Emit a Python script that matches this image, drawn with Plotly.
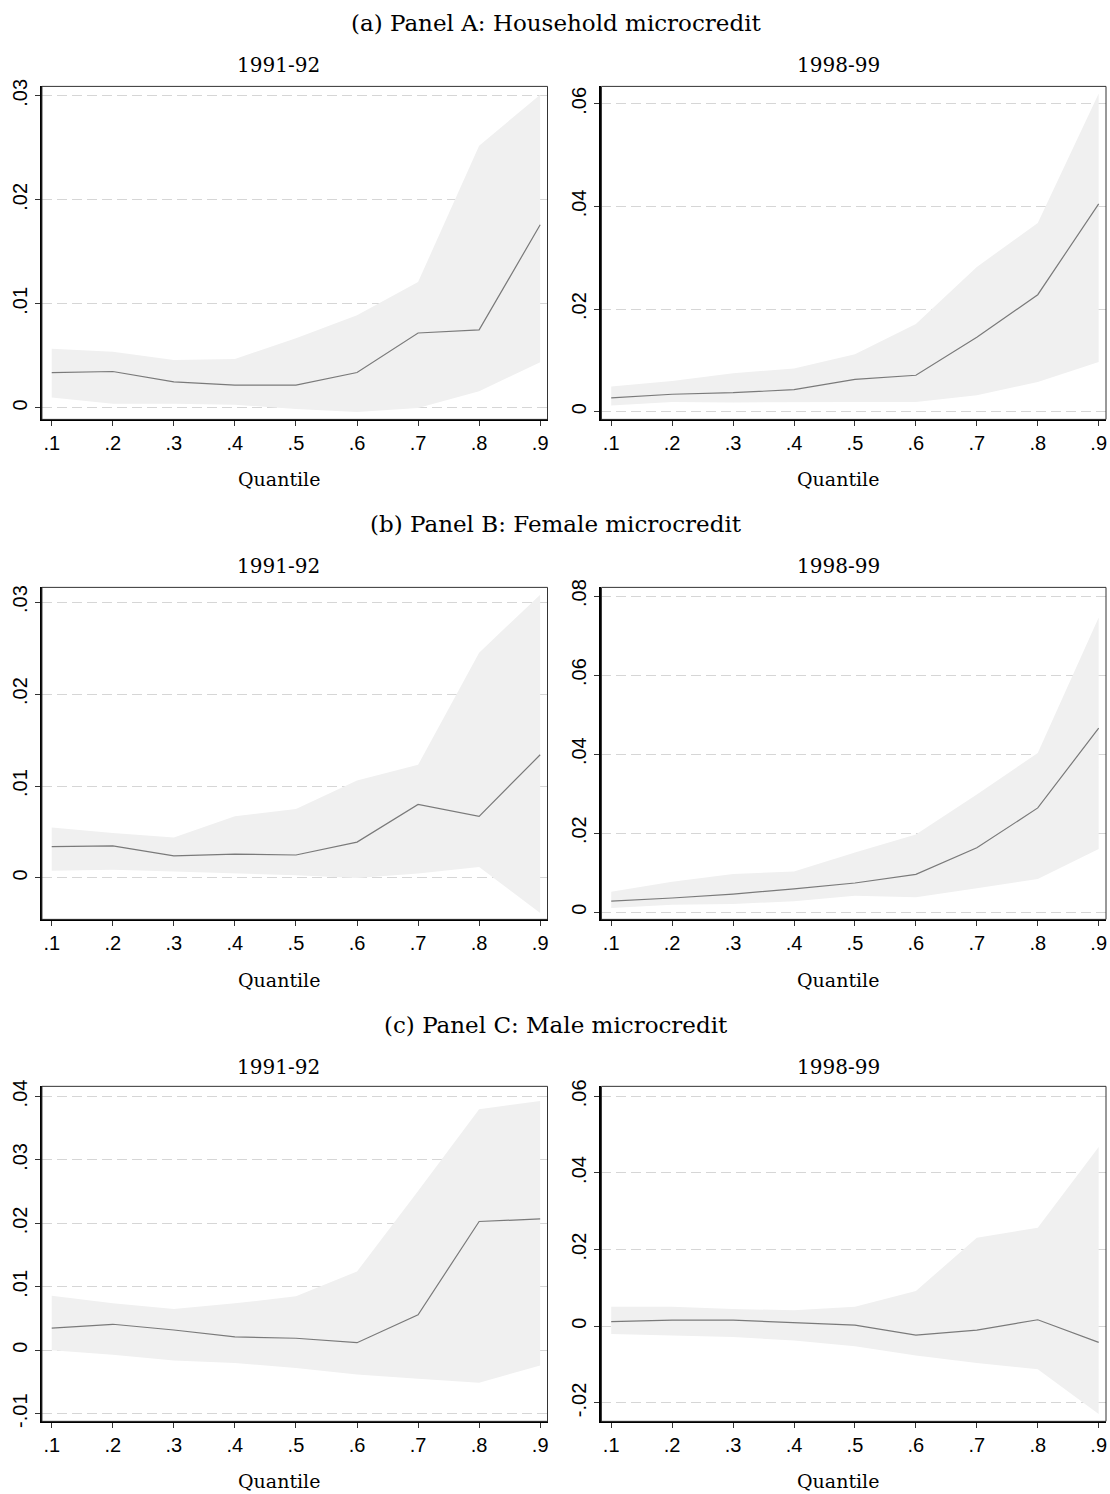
import plotly.graph_objects as go

quantiles = [0.1, 0.2, 0.3, 0.4, 0.5, 0.6, 0.7, 0.8, 0.9]
x_ticktext = [".1", ".2", ".3", ".4", ".5", ".6", ".7", ".8", ".9"]

# Panel A: Household microcredit
a91_est = [0.0034, 0.0035, 0.0025, 0.0022, 0.0022, 0.0034, 0.0072, 0.0075, 0.0176]
a91_hi = [0.0057, 0.0054, 0.0046, 0.0047, 0.0067, 0.0089, 0.0121, 0.0252, 0.0301]
a91_lo = [0.0010, 0.0004, 0.0004, 0.0003, -0.0001, -0.0004, 0.0000, 0.0016, 0.0044]

a98_est = [0.0027, 0.0034, 0.0037, 0.0043, 0.0063, 0.0071, 0.0145, 0.0228, 0.0405]
a98_hi = [0.0049, 0.0060, 0.0075, 0.0084, 0.0112, 0.0171, 0.0282, 0.0368, 0.0620]
a98_lo = [0.0012, 0.0019, 0.0018, 0.0019, 0.0019, 0.0019, 0.0032, 0.0058, 0.0097]

# Panel B: Female microcredit
b91_est = [0.0034, 0.0035, 0.0024, 0.0026, 0.0025, 0.0039, 0.0080, 0.0067, 0.0134]
b91_hi = [0.0055, 0.0049, 0.0044, 0.0067, 0.0075, 0.0106, 0.0123, 0.0245, 0.0308]
b91_lo = [0.0008, 0.0009, 0.0007, 0.0005, 0.0003, 0.0000, 0.0005, 0.0012, -0.0038]

b98_est = [0.0028, 0.0036, 0.0046, 0.0059, 0.0074, 0.0096, 0.0163, 0.0264, 0.0466]
b98_hi = [0.0052, 0.0077, 0.0097, 0.0103, 0.0151, 0.0197, 0.0298, 0.0403, 0.0746]
b98_lo = [0.0011, 0.0019, 0.0021, 0.0028, 0.0042, 0.0038, 0.0061, 0.0084, 0.0160]

# Panel C: Male microcredit
c91_est = [0.0035, 0.0041, 0.0032, 0.0021, 0.0019, 0.0012, 0.0056, 0.0203, 0.0207]
c91_hi = [0.0086, 0.0074, 0.0065, 0.0074, 0.0085, 0.0124, 0.0251, 0.0380, 0.0393]
c91_lo = [0.0000, -0.0007, -0.0016, -0.0020, -0.0028, -0.0038, -0.0045, -0.0051, -0.0024]

c98_est = [0.0012, 0.0016, 0.0016, 0.0009, 0.0003, -0.0023, -0.0010, 0.0017, -0.0042]
c98_hi = [0.0051, 0.0051, 0.0045, 0.0042, 0.0051, 0.0092, 0.0231, 0.0257, 0.0468]
c98_lo = [-0.0020, -0.0024, -0.0028, -0.0037, -0.0052, -0.0076, -0.0096, -0.0112, -0.0229]

panel_titles = ["(a) Panel A: Household microcredit",
                "(b) Panel B: Female microcredit",
                "(c) Panel C: Male microcredit"]
period_titles = ["1991-92", "1998-99"]
x_title = "Quantile"

# y tick values / labels per subplot
yt_a91 = [0, 0.01, 0.02, 0.03]; yl_a91 = ["0", ".01", ".02", ".03"]
yt_a98 = [0, 0.02, 0.04, 0.06]; yl_a98 = ["0", ".02", ".04", ".06"]
yt_b91 = [0, 0.01, 0.02, 0.03]; yl_b91 = ["0", ".01", ".02", ".03"]
yt_b98 = [0, 0.02, 0.04, 0.06, 0.08]; yl_b98 = ["0", ".02", ".04", ".06", ".08"]
yt_c91 = [-0.01, 0, 0.01, 0.02, 0.03, 0.04]; yl_c91 = ["-.01", "0", ".01", ".02", ".03", ".04"]
yt_c98 = [-0.02, 0, 0.02, 0.04, 0.06]; yl_c98 = ["-.02", "0", ".02", ".04", ".06"]

panels = [
    (a91_est, a91_hi, a91_lo, yt_a91, yl_a91, [-0.0011, 0.0309]),
    (a98_est, a98_hi, a98_lo, yt_a98, yl_a98, [-0.0015, 0.0634]),
    (b91_est, b91_hi, b91_lo, yt_b91, yl_b91, [-0.0045, 0.0316]),
    (b98_est, b98_hi, b98_lo, yt_b98, yl_b98, [-0.0018, 0.0822]),
    (c91_est, c91_hi, c91_lo, yt_c91, yl_c91, [-0.0112, 0.0416]),
    (c98_est, c98_hi, c98_lo, yt_c98, yl_c98, [-0.0248, 0.0626]),
]

W, H = 1110, 1494


def vy(p):
    # target on-screen pixel row -> layout pixel row
    return (p - 8.6) / 0.99


col_px = [(42, 548), (602, 1107)]
row_px = [(87, 420), (588, 920), (1087, 1422)]
panel_title_y = [24, 525, 1026]
period_title_y = [66, 567, 1068]
quantile_y = [480, 981, 1482]
col_text_x = [279, 839]

SERIF = "DejaVu Serif"
SANS = "Liberation Sans, Arial"

fig = go.Figure()
layout = dict(width=W, height=H, margin=dict(l=0, r=0, t=0, b=0),
              paper_bgcolor="white", plot_bgcolor="white", showlegend=False)
annotations = []
shapes = []

for i, (est, hi, lo, yt, yl, yr) in enumerate(panels):
    r, c = divmod(i, 2)
    n = i + 1
    xa = "x" if n == 1 else f"x{n}"
    ya = "y" if n == 1 else f"y{n}"
    fig.add_trace(go.Scatter(x=quantiles, y=lo, mode="lines", line=dict(width=0),
                             xaxis=xa, yaxis=ya, hoverinfo="skip"))
    fig.add_trace(go.Scatter(x=quantiles, y=hi, mode="lines", line=dict(width=0),
                             fill="tonexty", fillcolor="#f0f0f0",
                             xaxis=xa, yaxis=ya, hoverinfo="skip"))
    fig.add_trace(go.Scatter(x=quantiles, y=est, mode="lines",
                             line=dict(color="#7a7a7a", width=1.2),
                             xaxis=xa, yaxis=ya))
    x0, x1 = col_px[c]
    y0, y1 = vy(row_px[r][0]), vy(row_px[r][1])
    xkey = "xaxis" if n == 1 else f"xaxis{n}"
    ykey = "yaxis" if n == 1 else f"yaxis{n}"
    layout[xkey] = dict(domain=[x0 / W, x1 / W], anchor=ya, range=[0.084, 0.912],
                        tickvals=quantiles, ticktext=x_ticktext,
                        ticks="outside", ticklen=5, tickcolor="#333333", tickwidth=1,
                        showgrid=False, zeroline=False,
                        showline=True, linecolor="black", linewidth=2,
                        tickfont=dict(family=SANS, size=20, color="black"))
    layout[ykey] = dict(domain=[1 - y1 / H, 1 - y0 / H], anchor=xa, range=yr,
                        tickvals=yt, ticktext=yl, tickangle=-90,
                        ticks="outside", ticklen=5, tickcolor="#333333", tickwidth=1,
                        showgrid=True, gridcolor="#d6d6d6", gridwidth=1, griddash="10px,5px",
                        zeroline=False,
                        showline=True, linecolor="black", linewidth=2,
                        tickfont=dict(family=SANS, size=20, color="black"))
    shapes.append(dict(type="rect", xref=f"{xa} domain", yref=f"{ya} domain",
                       x0=0, x1=1, y0=0, y1=1, line=dict(color="#333333", width=1),
                       fillcolor="rgba(0,0,0,0)", layer="above"))
    annotations.append(dict(text=period_titles[c], x=col_text_x[c] / W,
                            y=1 - vy(period_title_y[r]) / H,
                            xref="paper", yref="paper", showarrow=False,
                            xanchor="center", yanchor="middle",
                            font=dict(family=SERIF, size=20, color="black")))
    annotations.append(dict(text=x_title, x=col_text_x[c] / W,
                            y=1 - vy(quantile_y[r]) / H,
                            xref="paper", yref="paper", showarrow=False,
                            xanchor="center", yanchor="middle",
                            font=dict(family=SERIF, size=19, color="black")))

for r, t in enumerate(panel_titles):
    annotations.append(dict(text=t, x=557 / W, y=1 - vy(panel_title_y[r]) / H,
                            xref="paper", yref="paper", showarrow=False,
                            xanchor="center", yanchor="middle",
                            font=dict(family=SERIF, size=23, color="black")))

layout["annotations"] = annotations
layout["shapes"] = shapes
fig.update_layout(**layout)
fig.write_html("out.html")
